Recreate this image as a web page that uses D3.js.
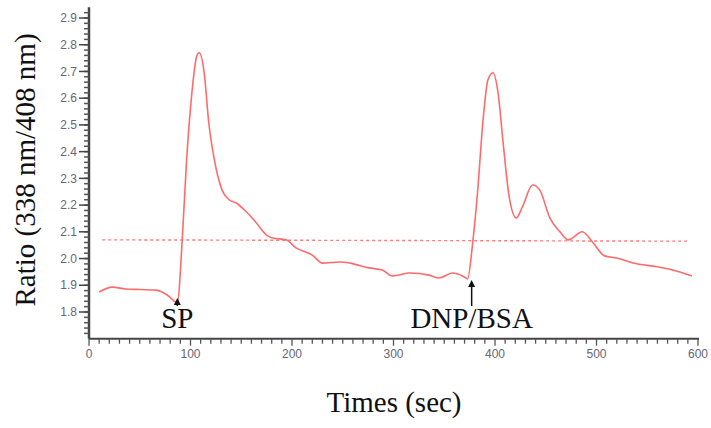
<!DOCTYPE html>
<html><head><meta charset="utf-8">
<script src="https://cdn.jsdelivr.net/npm/d3@7"></script>
<style>body{margin:0;background:#fff}svg{display:block}</style>
</head><body>
<svg id="c" width="711" height="428"></svg>
<script>
// Data
const times = [10,23,36,50,66,72,80,84,87,92,96,101,106,108.5,113.5,118,123,131,138,145,155,165,175,181,194,204,220,230,247,257,276,289,299,316,335,345,358,368,373,378,383,388,393,398,403,408,414,421,427,437,444,454,464,472,486,496,508,520,536,560,575,594];
const ratios = [1.875,1.893,1.886,1.884,1.882,1.875,1.855,1.84,1.835,2.08,2.358,2.605,2.755,2.77,2.695,2.508,2.38,2.257,2.22,2.208,2.175,2.133,2.088,2.077,2.07,2.04,2.013,1.983,1.987,1.983,1.965,1.957,1.935,1.946,1.938,1.927,1.946,1.935,1.924,2.058,2.257,2.508,2.668,2.695,2.62,2.433,2.23,2.152,2.193,2.275,2.257,2.152,2.1,2.07,2.1,2.062,2.01,2.002,1.983,1.969,1.957,1.935];
const baseTimes = [13, 590];
const baseRatios = [2.07, 2.065];
const xTicks = [0,100,200,300,400,500,600];
const yTicks = [1.8,1.9,2.0,2.1,2.2,2.3,2.4,2.5,2.6,2.7,2.8,2.9];
const markers = [{t:87, label:"SP"}, {t:377, label:"DNP/BSA"}];

const svg = d3.select("#c");
const x = d3.scaleLinear().domain([0,600]).range([89,698]);
const y = d3.scaleLinear().domain([1.8,2.9]).range([312,18]);
const axisCol = "#444";

// y axis
const gy = svg.append("g");
gy.append("line").attr("x1",x(0)).attr("x2",x(0)).attr("y1",y(1.7)).attr("y2",y(2.94))
  .attr("stroke",axisCol).attr("stroke-width",2.5);
d3.range(1.72,2.94,0.02).forEach(v=>{
  gy.append("line").attr("x1",x(0)-5).attr("x2",x(0)).attr("y1",y(v)).attr("y2",y(v))
    .attr("stroke","#555").attr("stroke-width",1.5);
});
yTicks.forEach(v=>{
  gy.append("line").attr("x1",x(0)-10).attr("x2",x(0)).attr("y1",y(v)).attr("y2",y(v))
    .attr("stroke",axisCol).attr("stroke-width",1.5);
  gy.append("text").attr("x",x(0)-12).attr("y",y(v)).attr("dy","0.35em")
    .attr("text-anchor","end").attr("font-family","Liberation Sans, Arial, sans-serif")
    .attr("font-size",12).attr("fill","#667").text(v.toFixed(1));
});

// x axis
const gx = svg.append("g");
const yb = y(1.7);
gx.append("line").attr("x1",x(0)).attr("x2",x(600)+1).attr("y1",yb).attr("y2",yb)
  .attr("stroke",axisCol).attr("stroke-width",2);
d3.range(0,601,10).forEach(v=>{
  const major = v%100===0;
  gx.append("line").attr("x1",x(v)).attr("x2",x(v)).attr("y1",yb).attr("y2",yb+(major?7:5))
    .attr("stroke","#555").attr("stroke-width",1.3);
});
xTicks.forEach(v=>{
  gx.append("text").attr("x",x(v)).attr("y",yb+19)
    .attr("text-anchor","middle").attr("font-family","Liberation Sans, Arial, sans-serif")
    .attr("font-size",12).attr("fill","#667").text(v);
});

// baseline dashed
svg.append("path").datum(baseTimes.map((t,i)=>[t,baseRatios[i]]))
  .attr("d", d3.line().x(d=>x(d[0])).y(d=>y(d[1])))
  .attr("fill","none").attr("stroke","#ff7a7a").attr("stroke-width",1.4).attr("stroke-dasharray","3,3");

// curve
svg.append("path").datum(times.map((t,i)=>[t,ratios[i]]))
  .attr("d", d3.line().x(d=>x(d[0])).y(d=>y(d[1])).curve(d3.curveMonotoneX))
  .attr("fill","none").attr("stroke","#ff6b6b").attr("stroke-width",1.6);

// markers
markers.forEach((m,i)=>{
  const mx = x(m.t);
  const top = i===0 ? 298 : 280;
  svg.append("line").attr("x1",mx).attr("x2",mx).attr("y1",top+4).attr("y2",306)
    .attr("stroke","#111").attr("stroke-width",1.5);
  svg.append("path").attr("d",`M${mx},${top} L${mx-3.5},${top+7} L${mx+3.5},${top+7} Z`).attr("fill","#111");
  svg.append("text").attr("x", mx).attr("y",328).attr("text-anchor","middle")
    .attr("font-family","Liberation Serif, Times New Roman, serif").attr("font-size",29)
    .attr("fill","#111").text(m.label);
});

// axis labels
svg.append("text").attr("transform","translate(35,170) rotate(-90)").attr("text-anchor","middle")
  .attr("font-family","Liberation Serif, Times New Roman, serif").attr("font-size",29).attr("fill","#111")
  .text("Ratio (338 nm/408 nm)");
svg.append("text").attr("x",394).attr("y",412).attr("text-anchor","middle")
  .attr("font-family","Liberation Serif, Times New Roman, serif").attr("font-size",29).attr("fill","#111")
  .text("Times (sec)");
</script>
</body></html>
